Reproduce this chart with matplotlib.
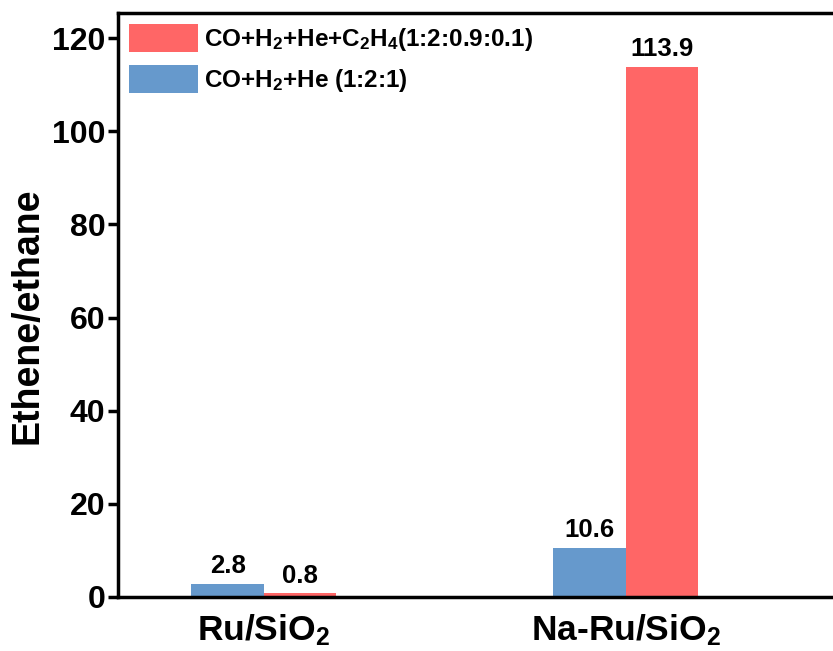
import numpy as np
import matplotlib

matplotlib.use("Agg")
import matplotlib.pyplot as plt

plt.rcParams["font.family"] = ["Liberation Sans", "DejaVu Sans"]
plt.rcParams["font.weight"] = "bold"
plt.rcParams["mathtext.fontset"] = "custom"
plt.rcParams["mathtext.rm"] = "Liberation Sans:bold"
plt.rcParams["mathtext.bf"] = "Liberation Sans:bold"
plt.rcParams["mathtext.it"] = "Liberation Sans:bold"
plt.rcParams["mathtext.default"] = "bf"

# data
catalysts = ["Ru/SiO$_2$", "Na-Ru/SiO$_2$"]
feed_no_c2h4 = [2.8, 10.6]
feed_c2h4 = [0.8, 113.9]
label_no_c2h4 = "CO+H$_2$+He (1:2:1)"
label_c2h4 = "CO+H$_2$+He+C$_2$H$_4$(1:2:0.9:0.1)"
yticks = [0, 20, 40, 60, 80, 100, 120]

blue = "#6699CC"
red = "#FF6666"

fig = plt.figure(figsize=(8.33, 6.51), dpi=100)
# right spine sits just outside the picture, as in the original
ax = fig.add_axes([118 / 833, 1 - 597 / 651, (843 - 118) / 833, (597 - 13) / 651])

x = np.arange(len(catalysts))
w = 0.2
b1 = ax.bar(x - w / 2, feed_no_c2h4, w, color=blue, label=label_no_c2h4)
b2 = ax.bar(x + w / 2, feed_c2h4, w, color=red, label=label_c2h4)

for bars, vals in ((b1, feed_no_c2h4), (b2, feed_c2h4)):
    for rect, v in zip(bars, vals):
        ax.annotate(
            f"{v:.1f}",
            (rect.get_x() + rect.get_width() / 2, v),
            xytext=(0, 4),
            textcoords="offset points",
            ha="center",
            va="bottom",
            fontsize=18.5,
            fontweight="bold",
        )

ax.set_xlim(-0.403, 1.6)
ax.set_ylim(0, 125.4)
ax.set_yticks(yticks)
ax.set_xticks(x)
ax.set_xticklabels(catalysts, fontsize=25.5, fontweight="bold")
ax.tick_params(axis="x", length=0, pad=11)
ax.tick_params(axis="y", labelsize=23, width=2.5, length=7, direction="out", pad=2)
ax.set_ylabel("Ethene/ethane", fontsize=27, fontweight="bold")
ax.yaxis.set_label_coords(-0.1, 0.481)
for s in ax.spines.values():
    s.set_linewidth(2.5)

handles, labels = ax.get_legend_handles_labels()
ax.legend(
    handles[::-1],
    labels[::-1],
    loc="upper left",
    frameon=False,
    handlelength=2.85,
    handleheight=1.4,
    handletextpad=0.25,
    labelspacing=0.5,
    borderaxespad=0.05,
    prop={"weight": "bold", "size": 17.5},
)

fig.savefig("out.png", dpi=100)
